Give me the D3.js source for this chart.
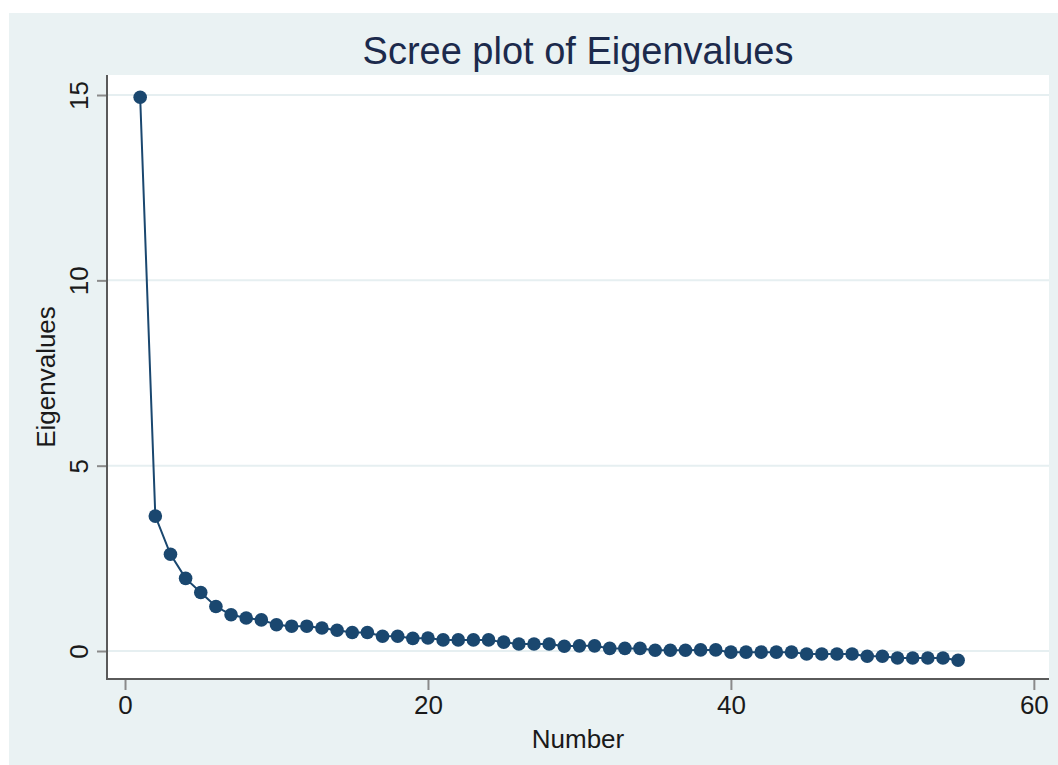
<!DOCTYPE html>
<html>
<head>
<meta charset="utf-8">
<script src="https://cdn.jsdelivr.net/npm/d3@7"></script>
<style>
  html, body { margin: 0; padding: 0; background: #ffffff; }
  svg { display: block; }
</style>
</head>
<body>
<svg id="chart" width="1058" height="765"></svg>
<script>
// ---- Data ----
const numbers = d3.range(1, 56);
const eigenvalues = [
  14.94, 3.64, 2.61, 1.96, 1.58, 1.20, 0.98, 0.89, 0.84, 0.71,
  0.67, 0.67, 0.62, 0.56, 0.50, 0.50, 0.40, 0.40, 0.34, 0.35,
  0.30, 0.30, 0.30, 0.30, 0.24, 0.19, 0.19, 0.19, 0.13, 0.14,
  0.14, 0.07, 0.07, 0.07, 0.02, 0.02, 0.02, 0.03, 0.03, -0.03,
  -0.03, -0.03, -0.03, -0.03, -0.08, -0.08, -0.08, -0.08, -0.14, -0.14,
  -0.19, -0.19, -0.19, -0.19, -0.25
];
const xTicks = [0, 20, 40, 60];
const yTicks = [0, 5, 10, 15];
const titleText = "Scree plot of Eigenvalues";
const xTitle = "Number";
const yTitle = "Eigenvalues";

const data = numbers.map((n, i) => ({ n, v: eigenvalues[i] }));

// ---- Layout ----
const W = 1058, H = 765;
const plot = { left: 107, top: 75, right: 1049, bottom: 679 };
const navy = "#1a476f";
const font = "'Liberation Sans', Arial, Helvetica, sans-serif";

const svg = d3.select("#chart");

// outer background
svg.append("rect").attr("x", 9).attr("y", 13).attr("width", W - 9).attr("height", H - 13)
  .attr("fill", "#eaf2f3");

// plot region
svg.append("rect").attr("x", plot.left).attr("y", plot.top)
  .attr("width", plot.right - plot.left).attr("height", plot.bottom - plot.top)
  .attr("fill", "#ffffff");

const x = d3.scaleLinear().domain([-1.19, 61.0]).range([plot.left, plot.right]);
const y = d3.scaleLinear().domain([-0.755, 15.54]).range([plot.bottom, plot.top]);

// gridlines
svg.append("g").selectAll("line").data(yTicks).join("line")
  .attr("x1", plot.left).attr("x2", plot.right)
  .attr("y1", d => y(d)).attr("y2", d => y(d))
  .attr("stroke", "#e6eff1").attr("stroke-width", 2);

// Y axis
const yAxis = svg.append("g").attr("transform", `translate(${plot.left},0)`)
  .call(d3.axisLeft(y).tickValues(yTicks).tickSize(10).tickPadding(0).tickFormat(d3.format("d")));
yAxis.select(".domain").remove();
yAxis.selectAll(".tick line").attr("stroke", "#8a8a8a").attr("stroke-width", 2);
yAxis.selectAll(".tick text")
  .attr("x", null).attr("dy", null)
  .attr("transform", "translate(-19,0) rotate(-90)")
  .attr("text-anchor", "middle")
  .attr("font-family", font).attr("font-size", 26).attr("fill", "#1a1a1a");
svg.append("line").attr("x1", plot.left).attr("x2", plot.left)
  .attr("y1", plot.top).attr("y2", plot.bottom + 1)
  .attr("stroke", "#5a5a5a").attr("stroke-width", 2);

// X axis
const xAxis = svg.append("g").attr("transform", `translate(0,${plot.bottom})`)
  .call(d3.axisBottom(x).tickValues(xTicks).tickSize(11).tickPadding(6).tickFormat(d3.format("d")));
xAxis.select(".domain").remove();
xAxis.selectAll(".tick line").attr("stroke", "#8a8a8a").attr("stroke-width", 2);
xAxis.selectAll(".tick text")
  .attr("font-family", font).attr("font-size", 26).attr("fill", "#1a1a1a");
svg.append("line").attr("x1", plot.left - 1).attr("x2", plot.right)
  .attr("y1", plot.bottom).attr("y2", plot.bottom)
  .attr("stroke", "#5a5a5a").attr("stroke-width", 2);

// line
svg.append("path").datum(data)
  .attr("d", d3.line().x(d => x(d.n)).y(d => y(d.v)))
  .attr("fill", "none").attr("stroke", navy).attr("stroke-width", 2);

// points
svg.append("g").selectAll("circle").data(data).join("circle")
  .attr("cx", d => x(d.n)).attr("cy", d => y(d.v)).attr("r", 6.8)
  .attr("fill", navy);

// titles
svg.append("text").attr("x", (plot.left + plot.right) / 2).attr("y", 64)
  .attr("text-anchor", "middle").attr("font-family", font).attr("font-size", 38)
  .attr("fill", "#1c2a4c").text(titleText);

svg.append("text").attr("x", (plot.left + plot.right) / 2).attr("y", 748)
  .attr("text-anchor", "middle").attr("font-family", font).attr("font-size", 26)
  .attr("fill", "#1a1a1a").text(xTitle);

svg.append("text")
  .attr("transform", `translate(55,${(plot.top + plot.bottom) / 2}) rotate(-90)`)
  .attr("text-anchor", "middle").attr("font-family", font).attr("font-size", 26)
  .attr("fill", "#1a1a1a").text(yTitle);
</script>
</body>
</html>
